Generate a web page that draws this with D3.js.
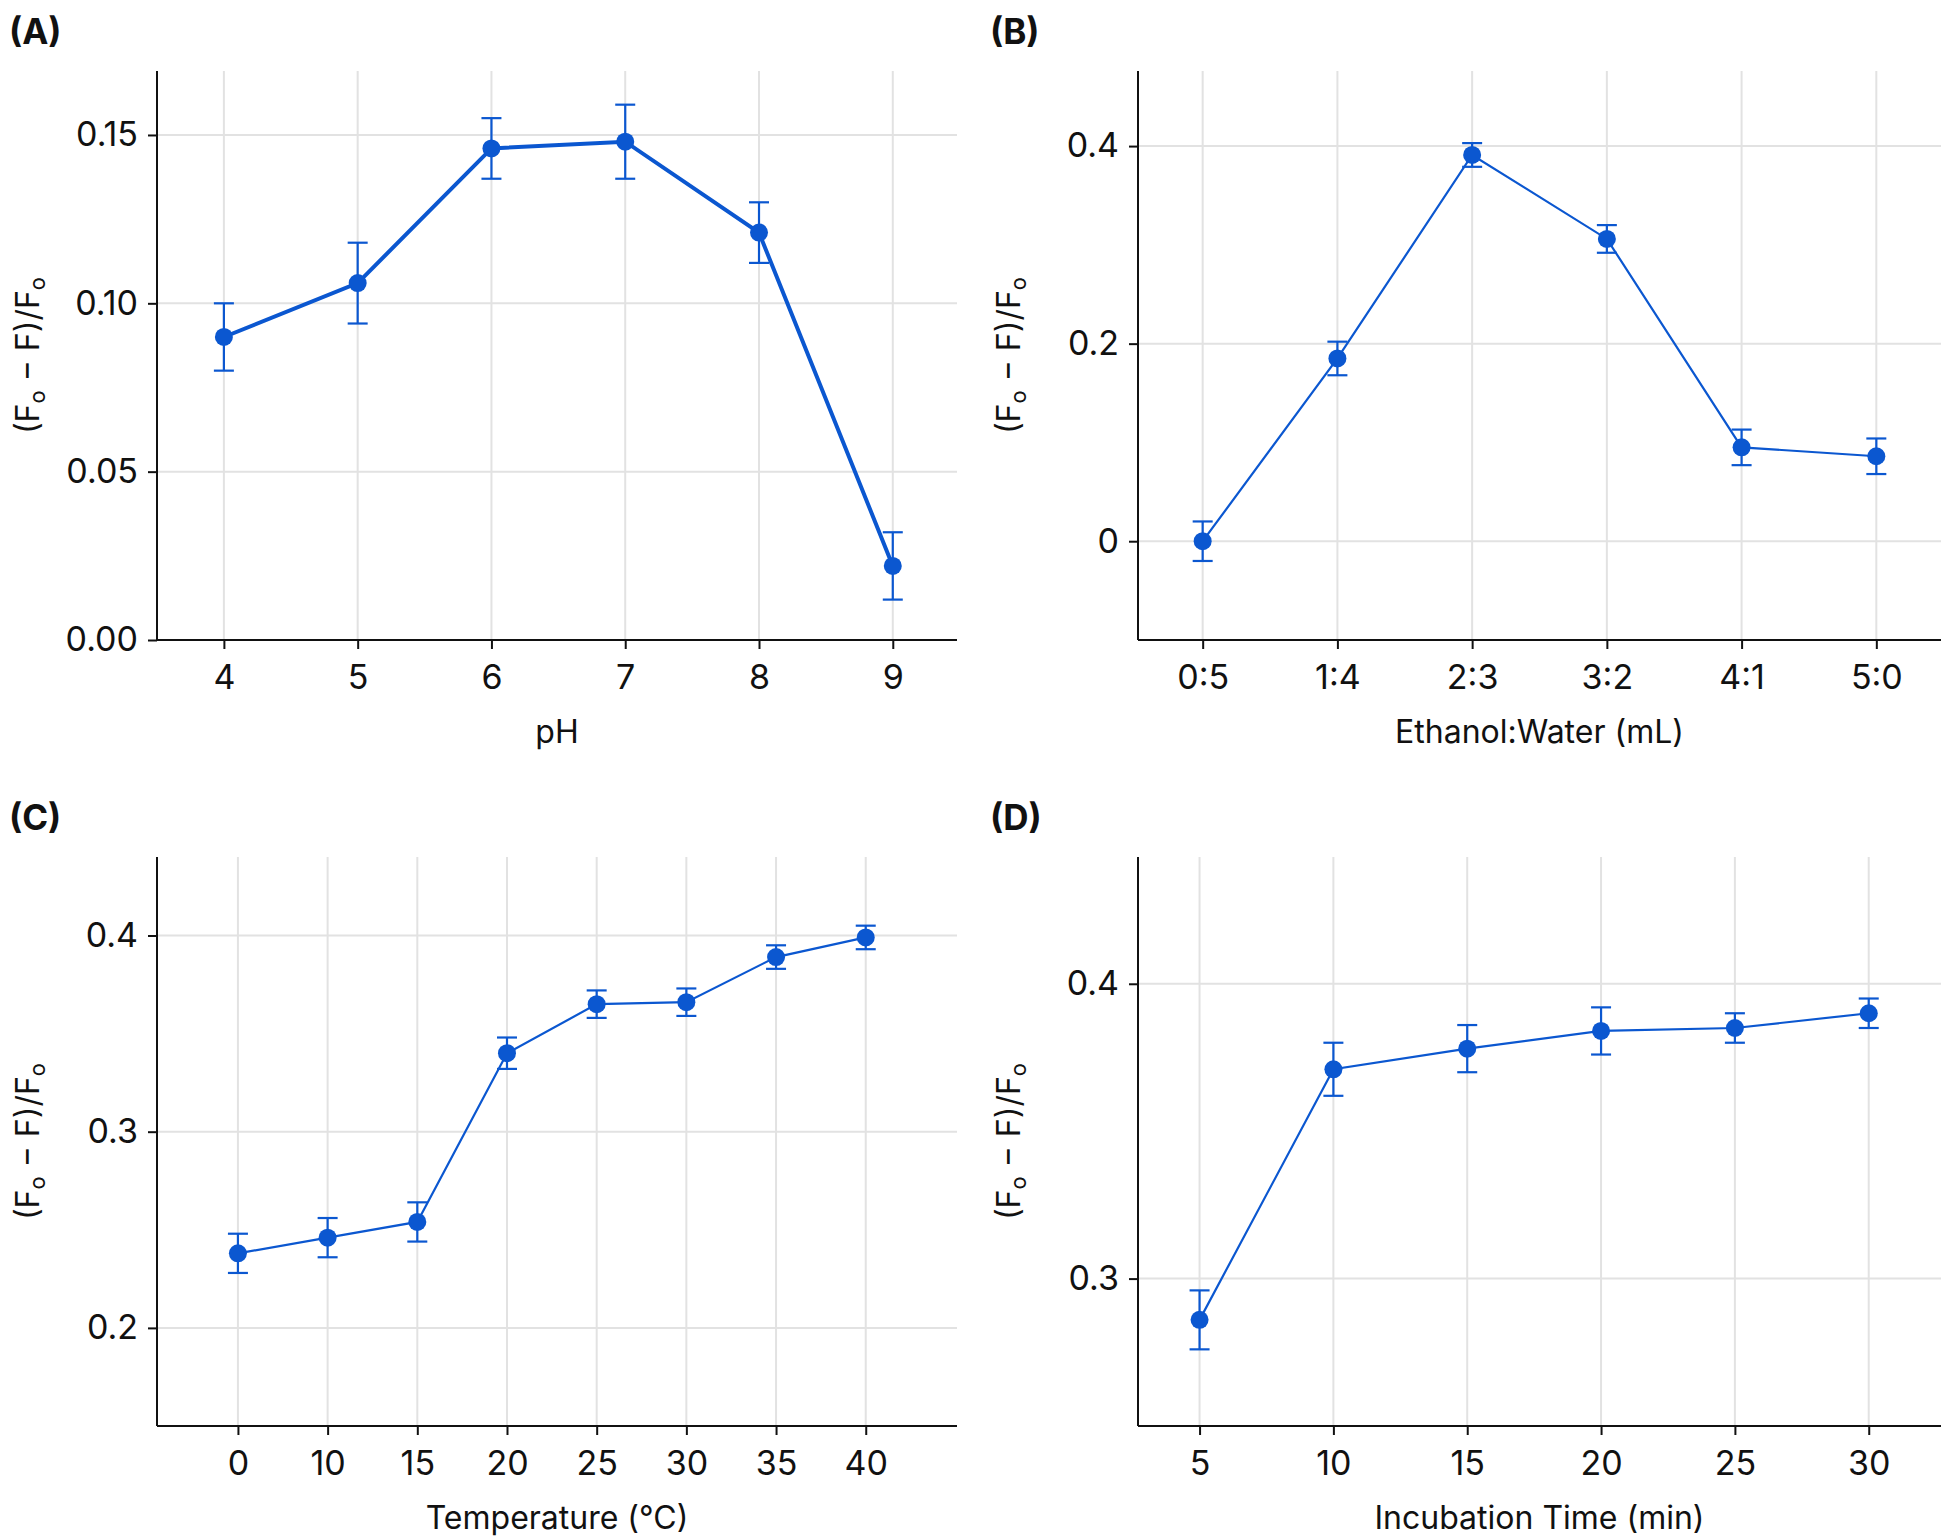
<!DOCTYPE html>
<html>
<head>
<script src="https://cdnjs.cloudflare.com/ajax/libs/d3/7.8.5/d3.min.js"></script>
<style>
  body { margin:0; background:#fff; }
  text { font-family: Inter, "Liberation Sans", sans-serif; fill:#111; }
</style>
</head>
<body>
<script>
var blue = "#0b57d0";

// panel A: pH
var phX = [4, 5, 6, 7, 8, 9];
var phY = [0.090, 0.106, 0.146, 0.148, 0.121, 0.022];
var phErr = [0.010, 0.012, 0.009, 0.011, 0.009, 0.010];
// panel B: ethanol:water
var ratioX = ["0:5", "1:4", "2:3", "3:2", "4:1", "5:0"];
var ratioY = [0.000, 0.185, 0.391, 0.306, 0.095, 0.086];
var ratioErr = [0.020, 0.017, 0.012, 0.014, 0.018, 0.018];
// panel C: temperature
var tempX = ["0", "10", "15", "20", "25", "30", "35", "40"];
var tempY = [0.238, 0.246, 0.254, 0.340, 0.365, 0.366, 0.389, 0.399];
var tempErr = [0.010, 0.010, 0.010, 0.008, 0.007, 0.007, 0.006, 0.006];
// panel D: incubation time
var timeX = [5, 10, 15, 20, 25, 30];
var timeY = [0.286, 0.371, 0.378, 0.384, 0.385, 0.390];
var timeErr = [0.010, 0.009, 0.008, 0.008, 0.005, 0.005];

var svg = d3.select("body").append("svg").attr("width", 1952).attr("height", 1536);

function panel(o) {
  var g = svg.append("g");
  var x;
  if (o.ordinal) {
    x = d3.scalePoint().domain(o.xs).range([o.l, o.r]).padding(o.pad).align(o.align || 0.5);
  } else {
    x = d3.scaleLinear().domain(o.xd).range([o.l, o.r]);
  }
  var y = d3.scaleLinear().domain(o.yd).range([o.b, o.t]);

  // grid
  g.selectAll(".gx").data(o.xs).enter().append("line")
    .attr("x1", d => x(d)).attr("x2", d => x(d)).attr("y1", o.t).attr("y2", o.b)
    .attr("stroke", "#e2e2e2").attr("stroke-width", 2);
  g.selectAll(".gy").data(o.yt).enter().append("line")
    .attr("x1", o.l).attr("x2", o.r).attr("y1", d => y(d)).attr("y2", d => y(d))
    .attr("stroke", "#e2e2e2").attr("stroke-width", 2);

  var xa = g.append("g").attr("transform", "translate(0," + o.b + ")")
    .call(d3.axisBottom(x).tickValues(o.xs).tickSize(9).tickPadding(16).tickFormat(d => d));
  var ya = g.append("g").attr("transform", "translate(" + o.l + ",0)")
    .call(d3.axisLeft(y).tickValues(o.yt).tickSize(9).tickPadding(10).tickFormat(o.yf));
  [xa, ya].forEach(function (a) {
    a.select(".domain").remove();
    a.selectAll(".tick line").attr("stroke", "#111").attr("stroke-width", 2);
    a.selectAll("text").style("font-size", "34px").attr("fill", "#111");
  });
  g.append("line").attr("x1", o.l).attr("x2", o.r).attr("y1", o.b).attr("y2", o.b).attr("stroke", "#111").attr("stroke-width", 2);
  g.append("line").attr("x1", o.l).attr("x2", o.l).attr("y1", o.t).attr("y2", o.b).attr("stroke", "#111").attr("stroke-width", 2);

  g.append("text").attr("x", (o.l + o.r) / 2).attr("y", o.b + 103).attr("text-anchor", "middle")
    .style("font-size", "32px").text(o.xl);
  var yl = g.append("text").attr("transform", "translate(" + (o.l - 118) + "," + ((o.t + o.b) / 2) + ") rotate(-90)")
    .attr("text-anchor", "middle").style("font-size", "32px");
  yl.append("tspan").text("(F");
  yl.append("tspan").text("o").style("font-size", "22px").attr("dy", 6);
  yl.append("tspan").text(" \u2212 F)/F").attr("dy", -6);
  yl.append("tspan").text("o").style("font-size", "22px").attr("dy", 6);

  g.append("text").attr("x", o.l - 148).attr("y", o.t - 27).style("font-size", "35px")
    .style("font-weight", "bold").text(o.tag);

  var pts = o.xs.map((d, i) => ({ x: d, y: o.ys[i], e: o.es[i] }));
  g.append("path").datum(pts)
    .attr("d", d3.line().x(d => x(d.x)).y(d => y(d.y)))
    .attr("fill", "none").attr("stroke", blue).attr("stroke-width", o.lw);
  var eb = g.selectAll(".eb").data(pts).enter().append("g");
  eb.append("line").attr("x1", d => x(d.x)).attr("x2", d => x(d.x))
    .attr("y1", d => y(d.y - d.e)).attr("y2", d => y(d.y + d.e))
    .attr("stroke", blue).attr("stroke-width", 2.2);
  [1, -1].forEach(function (s) {
    eb.append("line").attr("x1", d => x(d.x) - 10).attr("x2", d => x(d.x) + 10)
      .attr("y1", d => y(d.y + s * d.e)).attr("y2", d => y(d.y + s * d.e))
      .attr("stroke", blue).attr("stroke-width", 2.2);
  });
  g.selectAll(".pt").data(pts).enter().append("circle")
    .attr("cx", d => x(d.x)).attr("cy", d => y(d.y)).attr("r", 9).attr("fill", blue);
}

panel({ tag: "(A)", l: 157, r: 957, t: 71, b: 640, xd: [3.5, 9.48], xs: phX, ys: phY, es: phErr,
  yd: [0, 0.169], yt: [0, 0.05, 0.10, 0.15], yf: d3.format(".2f"), xl: "pH", lw: 4 });
panel({ tag: "(B)", l: 1138, r: 1941, t: 71, b: 640, ordinal: true, pad: 0.48, xs: ratioX, ys: ratioY, es: ratioErr,
  yd: [-0.1, 0.476], yt: [0, 0.2, 0.4], yf: d => d === 0 ? "0" : d3.format(".1f")(d), xl: "Ethanol:Water (mL)", lw: 2.2 });
panel({ tag: "(C)", l: 157, r: 957, t: 857, b: 1426, ordinal: true, pad: 0.96, align: 0.47, xs: tempX, ys: tempY, es: tempErr,
  yd: [0.15, 0.44], yt: [0.2, 0.3, 0.4], yf: d3.format(".1f"), xl: "Temperature (\u00b0C)", lw: 2.2 });
panel({ tag: "(D)", l: 1138, r: 1941, t: 857, b: 1426, xd: [2.7, 32.7], xs: timeX, ys: timeY, es: timeErr,
  yd: [0.25, 0.443], yt: [0.3, 0.4], yf: d3.format(".1f"), xl: "Incubation Time (min)", lw: 2.2 });
</script>
</body>
</html>
